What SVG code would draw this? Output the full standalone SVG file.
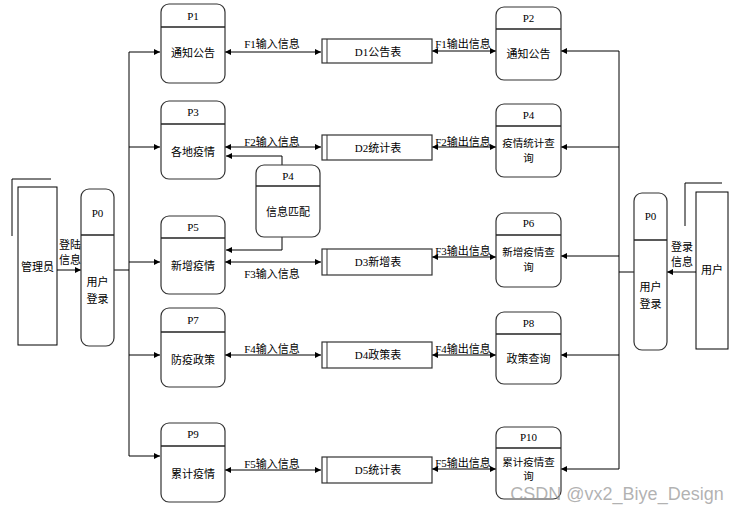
<svg xmlns="http://www.w3.org/2000/svg" width="741" height="511" viewBox="0 0 741 511">
<defs>
<marker id="arr" viewBox="0 0 10 10" refX="10" refY="5" markerWidth="6" markerHeight="6" markerUnits="userSpaceOnUse" orient="auto-start-reverse">
<path d="M0,0 L10,5 L0,10 z" fill="#000"/>
</marker>
<style>
.box{fill:#fff;stroke:#333;stroke-width:1.2}
.div{stroke:#222;stroke-width:1.5}
.ln{fill:none;stroke:#000;stroke-width:1}
.t{font-family:"Liberation Serif","Noto Sans CJK SC",serif;font-size:11px;fill:#000;text-anchor:middle}
.c{font-family:"Noto Sans CJK SC","Liberation Sans",sans-serif;font-size:11px;fill:#000;text-anchor:middle}
.s{font-family:"Noto Sans CJK SC","Liberation Sans",sans-serif;font-size:10.5px;fill:#000;text-anchor:middle}
.w{font-family:"Liberation Sans","Noto Sans CJK SC",sans-serif;font-size:18px;fill:#999;fill-opacity:0.75;text-anchor:middle}
</style>
</defs>
<rect width="741" height="511" fill="#fff"/>

<g id="connectors">
<path class="ln" d="M129,52 V456 M114,270 H129"/>
<path class="ln" d="M129,52 H160" marker-end="url(#arr)"/>
<path class="ln" d="M129,147 H160" marker-end="url(#arr)"/>
<path class="ln" d="M129,262 H160" marker-end="url(#arr)"/>
<path class="ln" d="M129,355 H160" marker-end="url(#arr)"/>
<path class="ln" d="M129,456 H160" marker-end="url(#arr)"/>
<path class="ln" d="M57,270 H81" marker-end="url(#arr)"/>
<path class="ln" d="M225,52 H321" marker-start="url(#arr)" marker-end="url(#arr)"/>
<path class="ln" d="M225,147 H321" marker-start="url(#arr)" marker-end="url(#arr)"/>
<path class="ln" d="M225,262 H321" marker-start="url(#arr)" marker-end="url(#arr)"/>
<path class="ln" d="M225,355 H321" marker-start="url(#arr)" marker-end="url(#arr)"/>
<path class="ln" d="M225,470 H321" marker-start="url(#arr)" marker-end="url(#arr)"/>
<path class="ln" d="M432,51 H496" marker-start="url(#arr)" marker-end="url(#arr)"/>
<path class="ln" d="M432,147 H496" marker-start="url(#arr)" marker-end="url(#arr)"/>
<path class="ln" d="M432,257 H496" marker-start="url(#arr)" marker-end="url(#arr)"/>
<path class="ln" d="M432,355 H496" marker-start="url(#arr)" marker-end="url(#arr)"/>
<path class="ln" d="M432,469 H496" marker-start="url(#arr)" marker-end="url(#arr)"/>
<path class="ln" d="M619,51 V469 M634,272 H619"/>
<path class="ln" d="M619,51 H561" marker-end="url(#arr)"/>
<path class="ln" d="M619,147 H561" marker-end="url(#arr)"/>
<path class="ln" d="M619,256 H561" marker-end="url(#arr)"/>
<path class="ln" d="M619,355 H561" marker-end="url(#arr)"/>
<path class="ln" d="M619,469 H561" marker-end="url(#arr)"/>
<path class="ln" d="M696,272 H667" marker-end="url(#arr)"/>
<path class="ln" d="M282,165 V156 H226" marker-end="url(#arr)"/>
<path class="ln" d="M282,237 V250 H226" marker-end="url(#arr)"/>
<text class="t" x="272" y="48">F1输入信息</text>
<text class="t" x="272" y="146">F2输入信息</text>
<text class="t" x="272" y="278">F3输入信息</text>
<text class="t" x="272" y="353">F4输入信息</text>
<text class="t" x="272" y="468">F5输入信息</text>
<text class="t" x="463" y="48">F1输出信息</text>
<text class="t" x="463" y="146">F2输出信息</text>
<text class="t" x="463" y="255">F3输出信息</text>
<text class="t" x="463" y="353">F4输出信息</text>
<text class="t" x="463" y="467">F5输出信息</text>
<text class="c" x="70" y="249">登陆</text>
<text class="c" x="70" y="264">信息</text>
<text class="c" x="682" y="251">登录</text>
<text class="c" x="682" y="266">信息</text>
</g>

<g id="admin">
<path class="ln" d="M12,236 V179 H51"/>
<rect x="18" y="187" width="39" height="158" fill="#fff" stroke="#000"/>
<text class="c" x="37.5" y="271">管理员</text>
</g>
<g id="user">
<path class="ln" d="M685,226 V183 H722"/>
<rect x="696" y="192" width="32" height="157" fill="#fff" stroke="#000"/>
<text class="c" x="712" y="274">用户</text>
</g>

<g id="P0L">
<rect class="box" x="81" y="189" width="33" height="157" rx="8"/>
<line class="div" x1="81" y1="235" x2="114" y2="235"/>
<text class="t" x="97.5" y="217">P0</text>
<text class="c" x="97.5" y="286">用户</text>
<text class="c" x="97.5" y="303">登录</text>
</g>
<g id="P0R">
<rect class="box" x="634" y="193" width="33" height="157" rx="8"/>
<line class="div" x1="634" y1="240" x2="667" y2="240"/>
<text class="t" x="650.5" y="220">P0</text>
<text class="c" x="650.5" y="291">用户</text>
<text class="c" x="650.5" y="308">登录</text>
</g>

<g id="P1">
<rect class="box" x="161" y="4" width="64" height="79" rx="8"/>
<line class="div" x1="161" y1="27" x2="225" y2="27"/>
<text class="t" x="193" y="20">P1</text>
<text class="c" x="193" y="57">通知公告</text>
</g>
<g id="P3">
<rect class="box" x="161" y="101" width="64" height="78" rx="8"/>
<line class="div" x1="161" y1="124" x2="225" y2="124"/>
<text class="t" x="193" y="116">P3</text>
<text class="c" x="193" y="156">各地疫情</text>
</g>
<g id="P4m">
<rect class="box" x="256" y="165" width="64" height="72" rx="8"/>
<line class="div" x1="256" y1="186" x2="320" y2="186"/>
<text class="t" x="288" y="180">P4</text>
<text class="c" x="288" y="216">信息匹配</text>
</g>
<g id="P5">
<rect class="box" x="161" y="216" width="64" height="78" rx="8"/>
<line class="div" x1="161" y1="238" x2="225" y2="238"/>
<text class="t" x="193" y="231">P5</text>
<text class="c" x="193" y="270">新增疫情</text>
</g>
<g id="P7">
<rect class="box" x="161" y="308" width="64" height="79" rx="8"/>
<line class="div" x1="161" y1="332" x2="225" y2="332"/>
<text class="t" x="193" y="324">P7</text>
<text class="c" x="193" y="364">防疫政策</text>
</g>
<g id="P9">
<rect class="box" x="161" y="423" width="64" height="79" rx="8"/>
<line class="div" x1="161" y1="446" x2="225" y2="446"/>
<text class="t" x="193" y="438">P9</text>
<text class="c" x="193" y="478">累计疫情</text>
</g>

<g id="D1">
<rect x="322" y="39" width="110" height="24" fill="#fff" stroke="#333" stroke-width="1.2"/>
<line x1="327" y1="39" x2="327" y2="63" stroke="#333"/>
<text class="t" x="378" y="56">D1公告表</text>
</g>
<g id="D2">
<rect x="322" y="135" width="110" height="25" fill="#fff" stroke="#333" stroke-width="1.2"/>
<line x1="327" y1="135" x2="327" y2="160" stroke="#333"/>
<text class="t" x="378" y="152">D2统计表</text>
</g>
<g id="D3">
<rect x="322" y="249" width="110" height="26" fill="#fff" stroke="#333" stroke-width="1.2"/>
<line x1="327" y1="249" x2="327" y2="275" stroke="#333"/>
<text class="t" x="378" y="266">D3新增表</text>
</g>
<g id="D4">
<rect x="322" y="342" width="110" height="26" fill="#fff" stroke="#333" stroke-width="1.2"/>
<line x1="327" y1="342" x2="327" y2="368" stroke="#333"/>
<text class="t" x="378" y="359">D4政策表</text>
</g>
<g id="D5">
<rect x="322" y="457" width="110" height="26" fill="#fff" stroke="#333" stroke-width="1.2"/>
<line x1="327" y1="457" x2="327" y2="483" stroke="#333"/>
<text class="t" x="378" y="474">D5统计表</text>
</g>

<g id="P2">
<rect class="box" x="496" y="7" width="65" height="73" rx="8"/>
<line class="div" x1="496" y1="29" x2="561" y2="29"/>
<text class="t" x="528.5" y="22">P2</text>
<text class="c" x="528.5" y="58">通知公告</text>
</g>
<g id="P4q">
<rect class="box" x="496" y="104" width="65" height="73" rx="8"/>
<line class="div" x1="496" y1="126" x2="561" y2="126"/>
<text class="t" x="528.5" y="119">P4</text>
<text class="s" x="528.5" y="147">疫情统计查</text>
<text class="s" x="528.5" y="162">询</text>
</g>
<g id="P6">
<rect class="box" x="496" y="213" width="65" height="74" rx="8"/>
<line class="div" x1="496" y1="235" x2="561" y2="235"/>
<text class="t" x="528.5" y="227">P6</text>
<text class="s" x="528.5" y="256">新增疫情查</text>
<text class="s" x="528.5" y="271">询</text>
</g>
<g id="P8">
<rect class="box" x="496" y="312" width="65" height="72" rx="8"/>
<line class="div" x1="496" y1="334" x2="561" y2="334"/>
<text class="t" x="528.5" y="327">P8</text>
<text class="c" x="528.5" y="363">政策查询</text>
</g>
<g id="P10">
<rect class="box" x="496" y="427" width="65" height="72" rx="8"/>
<line class="div" x1="496" y1="448" x2="561" y2="448"/>
<text class="t" x="528.5" y="441">P10</text>
<text class="s" x="528.5" y="466">累计疫情查</text>
<text class="s" x="528.5" y="480">询</text>
</g>

<text class="w" x="617" y="500">CSDN @vx2_Biye_Design</text>
</svg>
